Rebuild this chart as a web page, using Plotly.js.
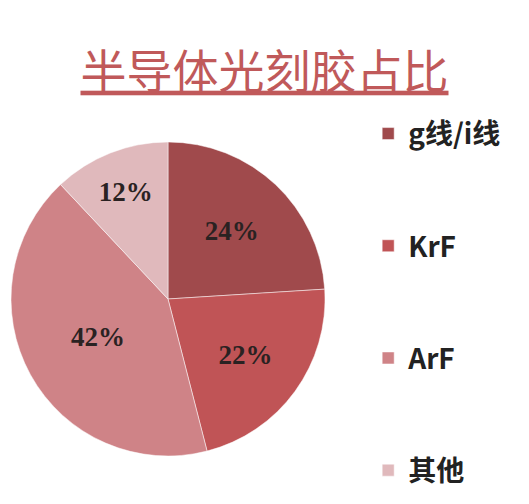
<!DOCTYPE html>
<html>
<head>
<meta charset="utf-8">
<script src="https://cdn.plot.ly/plotly-3.0.1.min.js"></script>
<style>
  html, body { margin: 0; padding: 0; background: #fff; }
  #chart { width: 529px; height: 504px; }
</style>
</head>
<body>
<div id="chart"></div>
<script>
// categories and shares (%)
let categories = ["g线/i线", "KrF", "ArF", "其他"];
let shares = [24, 22, 42, 12];
let sliceColors = ["#a04a4c", "#c05456", "#cf8387", "#e0b9bc"];

// blank lines under the first three labels push the legend entries apart
let legendLabels = categories.map((c, i) => i < categories.length - 1 ? c + "<br> <br> " : c);

let pieTrace = {
    type: "pie",
    labels: legendLabels,
    values: shares,
    sort: false,
    direction: "clockwise",
    rotation: 0,
    marker: {colors: sliceColors, line: {color: "#ffffff", width: 0.5}},
    texttemplate: "%{value}%",
    textposition: "inside",
    insidetextorientation: "horizontal",
    textfont: {family: "Liberation Serif", size: 27, color: "#2a2222", weight: "bold"},
    hoverinfo: "skip",
    domain: {x: [0.0208, 0.6144], y: [0.0952, 0.7183]}
};

let layout = {
    width: 529,
    height: 504,
    margin: {t: 0, b: 0, l: 0, r: 0},
    paper_bgcolor: "#ffffff",
    title: {
        text: "半导体光刻胶占比",
        font: {family: "Noto Sans CJK SC", size: 46, color: "#c0595a", lineposition: "under"},
        x: 0.5, xanchor: "center",
        y: 0.826, yanchor: "bottom"
    },
    showlegend: true,
    legend: {
        x: 0.696, xanchor: "left",
        y: 0.784, yanchor: "top",
        valign: "top",
        font: {family: "Noto Sans CJK SC", size: 28, color: "#222222", weight: "bold"},
        bgcolor: "rgba(0,0,0,0)"
    }
};

Plotly.newPlot("chart", [pieTrace], layout, {displayModeBar: false});
</script>
</body>
</html>
